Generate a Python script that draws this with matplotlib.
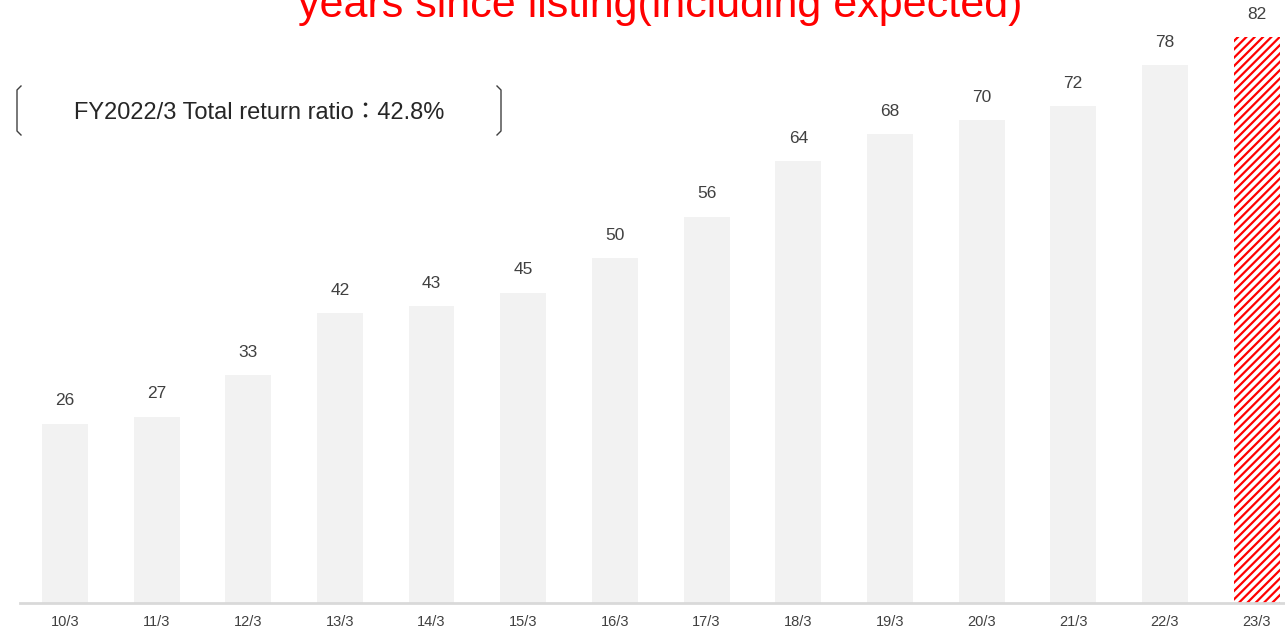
import matplotlib
matplotlib.use("Agg")
import matplotlib.pyplot as plt
from matplotlib.lines import Line2D

plt.rcParams['font.family'] = ['Liberation Sans', 'Noto Sans CJK JP', 'DejaVu Sans']
plt.rcParams['hatch.linewidth'] = 1.6
plt.rcParams['hatch.color'] = '#ff0000'

# dividend per share by fiscal year (last one is the forecast)
years = ["10/3", "11/3", "12/3", "13/3", "14/3", "15/3", "16/3",
         "17/3", "18/3", "19/3", "20/3", "21/3", "22/3", "23/3"]
dividends = [26, 27, 33, 42, 43, 45, 50, 56, 64, 68, 70, 72, 78, 82]
title_text = "years since listing(including expected)"
note_text = "FY2022/3 Total return ratio：42.8%"

fig = plt.figure(figsize=(12.85, 6.31), dpi=100)
ax = fig.add_axes([20 / 1285, 28 / 631, 1 - 20 / 1285, 603 / 631])

x = list(range(len(years)))
ax.bar(x[:-1], dividends[:-1], width=0.5, color='#f2f2f2', zorder=2)
ax.bar(x[-1], dividends[-1], width=0.5, color='white', edgecolor='#ff0000',
       hatch='////', linewidth=0, zorder=2)

for xi, v in zip(x, dividends):
    ax.annotate(str(v), (xi, v), xytext=(0, 11), textcoords='offset points',
                ha='center', va='bottom', fontsize=12.5, color='#404040')

ax.set_xlim(-0.49, 13.31)
ax.set_ylim(0, 87.4)
ax.set_xticks(x)
ax.set_xticklabels(years, fontsize=10.5, color='#404040')
ax.tick_params(axis='x', length=0, pad=9)
ax.set_yticks([])
for side in ['top', 'right', 'left']:
    ax.spines[side].set_visible(False)
ax.spines['bottom'].set_color('#d9d9d9')
ax.spines['bottom'].set_linewidth(2)
ax.patch.set_alpha(0)

# title sits partly above the canvas
fig.text(660 / 1285, 1 - 17 / 631, title_text, ha='center', va='baseline',
         fontsize=31, color='#ff0000')

# bracketed note box
def px(xp, yp):
    return xp / 1285, 1 - yp / 631

def bracket(xs, xe, y0, y1):
    pts = [px(xe, y0), px(xs, y0 + 4), px(xs, y1 - 4), px(xe, y1)]
    fig.add_artist(Line2D([p[0] for p in pts], [p[1] for p in pts],
                          color='#404040', lw=1))

bracket(17, 21, 86, 135)
bracket(501, 497, 86, 135)
tx, ty = px(259, 113)
fig.text(tx, ty, note_text, ha='center', va='center', fontsize=17, color='#262626')

fig.savefig("out.png", dpi=100)
